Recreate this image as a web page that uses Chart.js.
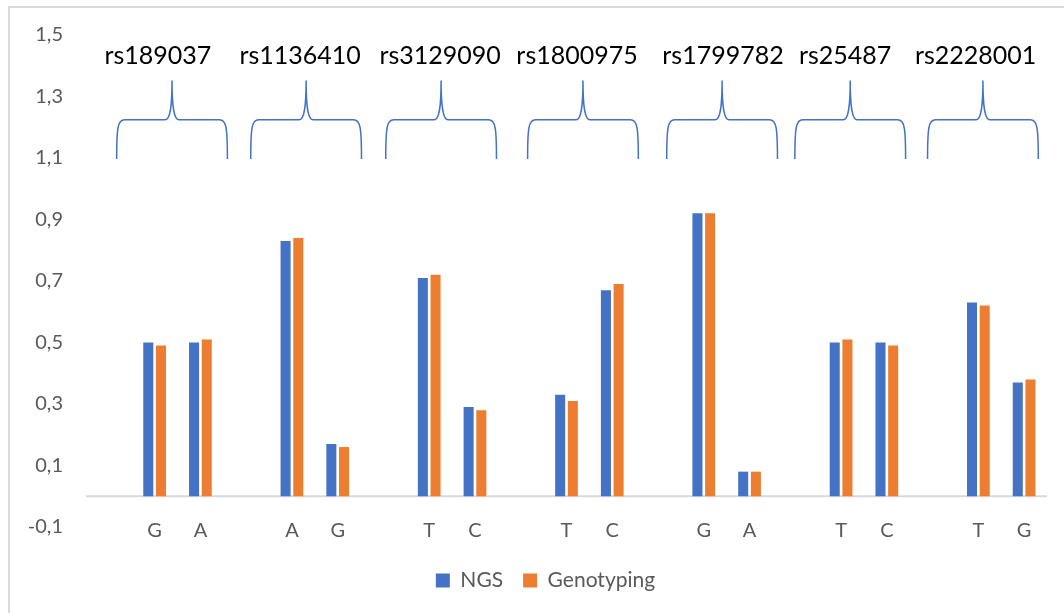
<!DOCTYPE html>
<html>
<head>
<meta charset="utf-8">
<script src="https://cdn.jsdelivr.net/npm/chart.js@4"></script>
<style>
  html, body { margin: 0; padding: 0; background: #fff; }
  .wrap { position: relative; width: 1064px; height: 613px; overflow: hidden; }
  .frame { position: absolute; left: 8px; top: 6px; width: 1200px; height: 800px; border: 2px solid #d9d9d9; }
  canvas { position: absolute; left: 0; top: 0; }
</style>
</head>
<body>
<div class="wrap">
  <div class="frame"></div>
  <canvas id="chart" width="1064" height="613"></canvas>
</div>
<script>
// each SNP gets an empty slot followed by its two alleles
const snps = ['rs189037', 'rs1136410', 'rs3129090', 'rs1800975', 'rs1799782', 'rs25487', 'rs2228001'];
const alleles = ['', 'G', 'A', '', 'A', 'G', '', 'T', 'C', '', 'T', 'C', '', 'G', 'A', '', 'T', 'C', '', 'T', 'G'];
const ngs = [null, 0.50, 0.50, null, 0.83, 0.17, null, 0.71, 0.29, null, 0.33, 0.67, null, 0.92, 0.08, null, 0.50, 0.50, null, 0.63, 0.37];
const genotyping = [null, 0.49, 0.51, null, 0.84, 0.16, null, 0.72, 0.28, null, 0.31, 0.69, null, 0.92, 0.08, null, 0.51, 0.49, null, 0.62, 0.38];
const yTicks = [-0.1, 0.1, 0.3, 0.5, 0.7, 0.9, 1.1, 1.3, 1.5];

// where the hand-placed braces and rs labels sit, in category units
const braceAt = [1.38, 4.31, 7.26, 10.36, 13.40, 16.20, 19.10];
const labelAt = [1.07, 4.18, 7.24, 10.23, 13.42, 16.09, 18.94];

const tickColor = '#595959';
const font = 'Lato';

// zero line, braces and SNP names
const annotations = {
    id: 'annotations',
    afterLayout(chart) {
        // legend sits a little right of the canvas centre
        chart.legend.left += 22;
        chart.legend.right += 22;
    },
    beforeDatasetsDraw(chart) {
        const { ctx, chartArea, scales: { y } } = chart;
        const y0 = y.getPixelForValue(0);
        ctx.save();
        ctx.strokeStyle = '#d9d9d9';
        ctx.lineWidth = 2;
        ctx.beginPath();
        ctx.moveTo(chartArea.left, y0);
        ctx.lineTo(chartArea.right, y0);
        ctx.stroke();
        ctx.restore();
    },
    afterDraw(chart) {
        const { ctx, scales: { x, y } } = chart;
        const slot = x.getPixelForValue(1) - x.getPixelForValue(0);
        const half = 1.21 * slot;
        const yTip = y.getPixelForValue(1.352);
        const yMid = y.getPixelForValue(1.224);
        const yEnd = y.getPixelForValue(1.097);
        ctx.save();
        ctx.strokeStyle = '#4472C4';
        ctx.lineWidth = 1.5;
        braceAt.forEach(v => {
            const c = x.getPixelForValue(v);
            const l = c - half, r = c + half;
            ctx.beginPath();
            ctx.moveTo(l, yEnd);
            ctx.bezierCurveTo(l, yMid + 8, l + 1, yMid, l + 8, yMid);
            ctx.lineTo(c - 7, yMid);
            ctx.bezierCurveTo(c - 2, yMid, c, yMid - 12, c, yTip);
            ctx.bezierCurveTo(c, yMid - 12, c + 2, yMid, c + 7, yMid);
            ctx.lineTo(r - 8, yMid);
            ctx.bezierCurveTo(r - 1, yMid, r, yMid + 8, r, yEnd);
            ctx.stroke();
        });
        ctx.fillStyle = '#000';
        ctx.font = '25px ' + font;
        ctx.textAlign = 'center';
        ctx.textBaseline = 'alphabetic';
        const yText = y.getPixelForValue(1.405);
        snps.forEach((name, i) => {
            ctx.fillText(name, x.getPixelForValue(labelAt[i]), yText);
        });
        ctx.restore();
    }
};

const ctx = document.getElementById('chart').getContext('2d');
new Chart(ctx, {
    type: 'bar',
    data: {
        labels: alleles,
        datasets: [
            { label: 'NGS', data: ngs, backgroundColor: '#4472C4' },
            { label: 'Genotyping', data: genotyping, backgroundColor: '#ED7D31' }
        ]
    },
    options: {
        responsive: false,
        animation: false,
        categoryPercentage: 0.555,
        barPercentage: 0.79,
        layout: { padding: { top: 30, right: 17, bottom: 12, left: 0 } },
        scales: {
            x: {
                position: { y: 0 },
                grid: { display: false, drawTicks: false },
                border: { display: false },
                ticks: { color: tickColor, font: { family: font, size: 20 }, padding: 22, maxRotation: 0, autoSkip: false }
            },
            // empty band that keeps the legend clear of the plot
            spacer: {
                type: 'category',
                position: 'bottom',
                grid: { display: false, drawTicks: false },
                border: { display: false },
                ticks: { display: false },
                afterFit: scale => { scale.height = 23; }
            },
            y: {
                min: -0.1,
                max: 1.5,
                afterBuildTicks: scale => { scale.ticks = yTicks.map(v => ({ value: v })); },
                afterFit: scale => { scale.width = 86; },
                grid: { display: false, drawTicks: false },
                border: { display: false },
                ticks: {
                    color: tickColor,
                    font: { family: font, size: 20 },
                    padding: 23,
                    callback: v => v.toFixed(1).replace('.', ',')
                }
            }
        },
        plugins: {
            legend: {
                position: 'bottom',
                labels: { color: tickColor, font: { family: font, size: 21 }, boxWidth: 14, boxHeight: 14, padding: 20 }
            },
            tooltip: { enabled: false }
        }
    },
    plugins: [annotations]
});
</script>
</body>
</html>
